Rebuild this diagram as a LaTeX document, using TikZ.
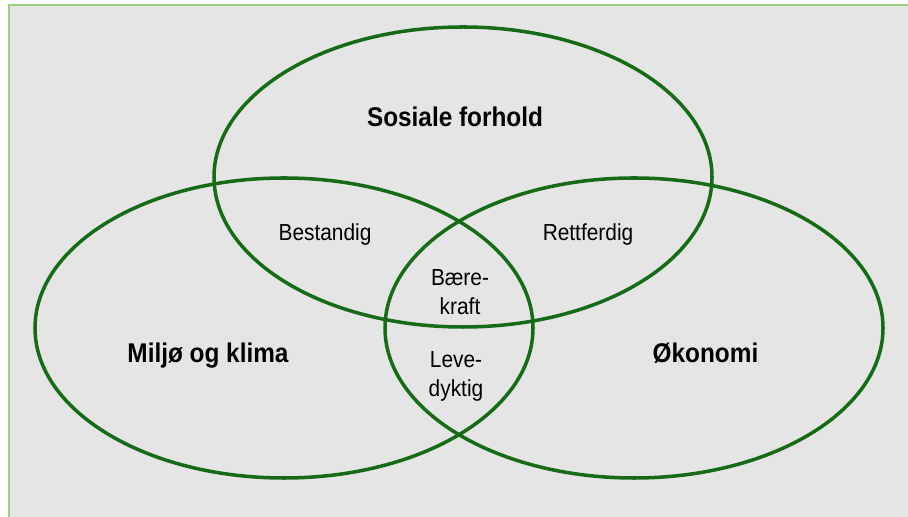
\documentclass[tikz,border=0pt]{standalone}
\usepackage{fontspec}
\setmainfont{Liberation Sans}[FakeStretch=0.9]
\definecolor{ringgreen}{RGB}{22,108,22}
\definecolor{framegreen}{RGB}{150,208,125}
\definecolor{panelgray}{RGB}{229,229,229}

\begin{document}
\begin{tikzpicture}[
  ring/.style={draw=ringgreen, line width=2pt},
  area/.style={font=\bfseries\fontsize{15.4}{18}\selectfont, inner sep=0pt},
  overlap/.style={font=\fontsize{13.2}{17}\selectfont, align=center, inner sep=0pt}
]

\useasboundingbox (0,0) rectangle (18.16,10.34);

% panel
\fill[white] (0,0) rectangle (18.16,10.34);
\fill[panelgray] (0.18,-0.5) rectangle (18.7,10.23);
\draw[framegreen, line width=0.04cm] (0.18,-0.5) -- (0.18,10.23) -- (18.7,10.23);


\def\rx{4.98}
\def\ry{3.00}


\draw[ring] (9.26,6.80) ellipse ({\rx} and {\ry});
\draw[ring] (5.68,3.78) ellipse ({\rx} and {\ry});
\draw[ring] (12.68,3.78) ellipse ({\rx} and {\ry});

\node[area, anchor=base] (sosial) at (9.10,7.80) {Sosiale forhold};
\node[area, anchor=base] (miljo) at (4.16,3.08) {Miljø og klima};
\node[area, anchor=base] (okonomi) at (14.11,3.08) {Økonomi};

\node[overlap, anchor=base] (bestandig) at (6.50,5.52) {Bestandig};
\node[overlap, anchor=base] (rettferdig) at (11.76,5.52) {Rettferdig};
\node[overlap, anchor=base] (baerekraft) at (9.20,4.04) {Bære-\\kraft};
\node[overlap, anchor=base] (levedyktig) at (9.12,2.40) {Leve-\\dyktig};
\end{tikzpicture}
\end{document}
